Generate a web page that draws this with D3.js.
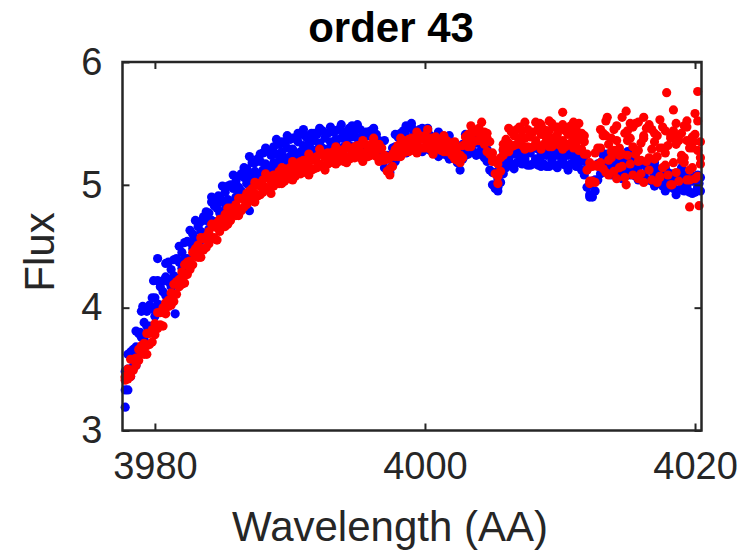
<!DOCTYPE html>
<html>
<head>
<meta charset="utf-8">
<script src="https://cdn.jsdelivr.net/npm/d3@7"></script>
<style>
  body { margin: 0; background: #fff; }
  svg { display: block; }
</style>
</head>
<body>
<div class="chart"></div>
<script>
/*------------------------------- data -------------------------------*/

const titleText = "order 43";
const xLabel = "Wavelength (AA)";
const yLabel = "Flux";
const xTicks = [3980, 4000, 4020];
const yTicks = [3, 4, 5, 6];

// wavelength grid (first pass)
const wave = [
  3977.8, 3978.2, 3978.6, 3979.0, 3979.4, 3979.8, 3980.2, 3980.6, 3981.0, 3981.4,
  3981.8, 3982.2, 3982.6, 3983.0, 3983.4, 3983.8, 3984.2, 3984.6, 3985.0, 3985.4,
  3985.8, 3986.2, 3986.6, 3987.0, 3987.4, 3987.8, 3988.2, 3988.6, 3989.0, 3989.4,
  3989.8, 3990.2, 3990.6, 3991.0, 3991.4, 3991.8, 3992.2, 3992.6, 3993.0, 3993.4,
  3993.8, 3994.2, 3994.6, 3995.0, 3995.4, 3995.8, 3996.2, 3996.6, 3997.0, 3997.4,
  3997.8, 3998.2, 3998.6, 3999.0, 3999.4, 3999.8, 4000.2, 4000.6, 4001.0, 4001.4,
  4001.8, 4002.2, 4002.6, 4003.0, 4003.4, 4003.8, 4004.2, 4004.6, 4005.0, 4005.4,
  4005.8, 4006.2, 4006.6, 4007.0, 4007.4, 4007.8, 4008.2, 4008.6, 4009.0, 4009.4,
  4009.8, 4010.2, 4010.6, 4011.0, 4011.4, 4011.8, 4012.2, 4012.6, 4013.0, 4013.4,
  4013.8, 4014.2, 4014.6, 4015.0, 4015.4, 4015.8, 4016.2, 4016.6, 4017.0, 4017.4,
  4017.8, 4018.2, 4018.6, 4019.0, 4019.4, 4019.8, 4020.2
];

// wavelength grid (second pass, in between)
const wave2 = [
  3978.0, 3978.4, 3978.8, 3979.2, 3979.6, 3980.0, 3980.4, 3980.8, 3981.2, 3981.6,
  3982.0, 3982.4, 3982.8, 3983.2, 3983.6, 3984.0, 3984.4, 3984.8, 3985.2, 3985.6,
  3986.0, 3986.4, 3986.8, 3987.2, 3987.6, 3988.0, 3988.4, 3988.8, 3989.2, 3989.6,
  3990.0, 3990.4, 3990.8, 3991.2, 3991.6, 3992.0, 3992.4, 3992.8, 3993.2, 3993.6,
  3994.0, 3994.4, 3994.8, 3995.2, 3995.6, 3996.0, 3996.4, 3996.8, 3997.2, 3997.6,
  3998.0, 3998.4, 3998.8, 3999.2, 3999.6, 4000.0, 4000.4, 4000.8, 4001.2, 4001.6,
  4002.0, 4002.4, 4002.8, 4003.2, 4003.6, 4004.0, 4004.4, 4004.8, 4005.2, 4005.6,
  4006.0, 4006.4, 4006.8, 4007.2, 4007.6, 4008.0, 4008.4, 4008.8, 4009.2, 4009.6,
  4010.0, 4010.4, 4010.8, 4011.2, 4011.6, 4012.0, 4012.4, 4012.8, 4013.2, 4013.6,
  4014.0, 4014.4, 4014.8, 4015.2, 4015.6, 4016.0, 4016.4, 4016.8, 4017.2, 4017.6,
  4018.0, 4018.4, 4018.8, 4019.2, 4019.6, 4020.0, 4020.4
];

// blue spectrum on the first grid: upper, middle and lower part of the band
const blueHi = [
  3.48, 3.64, 3.81, 3.97, 3.97, 4.08, 4.22, 4.22, 4.37, 4.39,
  4.50, 4.53, 4.63, 4.71, 4.70, 4.78, 4.86, 4.85, 4.99, 4.99,
  5.08, 5.07, 5.14, 5.23, 5.18, 5.25, 5.30, 5.27, 5.37, 5.35,
  5.40, 5.38, 5.42, 5.45, 5.40, 5.42, 5.46, 5.42, 5.47, 5.44,
  5.49, 5.43, 5.48, 5.49, 5.42, 5.43, 5.46, 5.36, 5.36, 5.21,
  5.41, 5.42, 5.48, 5.50, 5.41, 5.46, 5.44, 5.36, 5.43, 5.37,
  5.40, 5.32, 5.29, 5.41, 5.36, 5.38, 5.39, 5.29, 5.20, 5.05,
  5.28, 5.28, 5.30, 5.36, 5.26, 5.30, 5.31, 5.24, 5.34, 5.27,
  5.32, 5.28, 5.29, 5.34, 5.24, 5.24, 5.00, 5.04, 5.28, 5.25,
  5.26, 5.22, 5.22, 5.27, 5.16, 5.18, 5.18, 5.13, 5.18, 5.12,
  5.14, 5.08, 5.09, 5.14, 5.03, 5.07, 5.08
];
const blueMid = [
  3.33, 3.50, 3.68, 3.76, 3.85, 3.99, 4.03, 4.13, 4.21, 4.26,
  4.37, 4.40, 4.53, 4.56, 4.62, 4.71, 4.71, 4.81, 4.86, 4.88,
  4.97, 4.98, 5.06, 5.09, 5.11, 5.19, 5.17, 5.24, 5.25, 5.27,
  5.30, 5.29, 5.35, 5.32, 5.34, 5.36, 5.34, 5.38, 5.35, 5.37,
  5.38, 5.37, 5.39, 5.38, 5.35, 5.40, 5.34, 5.34, 5.24, 5.13,
  5.31, 5.34, 5.40, 5.37, 5.37, 5.38, 5.33, 5.34, 5.32, 5.31,
  5.31, 5.26, 5.24, 5.30, 5.32, 5.34, 5.29, 5.27, 5.10, 4.98,
  5.19, 5.22, 5.25, 5.25, 5.21, 5.26, 5.21, 5.23, 5.24, 5.20,
  5.24, 5.22, 5.24, 5.23, 5.20, 5.19, 4.90, 5.03, 5.18, 5.19,
  5.18, 5.16, 5.17, 5.16, 5.12, 5.14, 5.08, 5.12, 5.08, 5.06,
  5.05, 5.03, 5.04, 5.03, 4.99, 5.03, 4.98
];
const blueLo = [
  3.19, 3.44, 3.53, 3.68, 3.79, 3.83, 3.97, 4.00, 4.07, 4.18,
  4.21, 4.33, 4.36, 4.46, 4.55, 4.56, 4.67, 4.69, 4.73, 4.82,
  4.84, 4.93, 4.91, 4.99, 5.06, 5.06, 5.15, 5.14, 5.14, 5.22,
  5.19, 5.26, 5.21, 5.25, 5.30, 5.25, 5.32, 5.28, 5.25, 5.33,
  5.27, 5.33, 5.26, 5.31, 5.32, 5.28, 5.33, 5.25, 5.14, 5.10,
  5.19, 5.31, 5.26, 5.30, 5.34, 5.27, 5.32, 5.26, 5.23, 5.28,
  5.21, 5.24, 5.12, 5.24, 5.30, 5.24, 5.29, 5.19, 5.00, 4.95,
  5.09, 5.20, 5.13, 5.19, 5.19, 5.16, 5.21, 5.15, 5.15, 5.17,
  5.14, 5.20, 5.12, 5.17, 5.18, 5.08, 4.92, 4.95, 5.09, 5.16,
  5.08, 5.14, 5.05, 5.10, 5.10, 5.04, 5.08, 5.04, 4.99, 5.03,
  4.95, 5.01, 4.92, 4.97, 4.97, 4.93, 4.98
];

// blue spectrum on the second grid
const blueUp = [
  3.50, 3.66, 3.79, 3.88, 4.02, 4.08, 4.17, 4.25, 4.31, 4.40,
  4.45, 4.54, 4.60, 4.66, 4.74, 4.77, 4.83, 4.90, 4.94, 5.00,
  5.03, 5.09, 5.13, 5.18, 5.21, 5.26, 5.27, 5.31, 5.33, 5.34,
  5.37, 5.38, 5.41, 5.39, 5.42, 5.41, 5.44, 5.42, 5.43, 5.45,
  5.43, 5.46, 5.44, 5.45, 5.43, 5.44, 5.41, 5.35, 5.24, 5.30,
  5.39, 5.44, 5.46, 5.43, 5.45, 5.42, 5.40, 5.39, 5.38, 5.37,
  5.34, 5.31, 5.33, 5.38, 5.39, 5.38, 5.34, 5.25, 5.10, 5.15,
  5.27, 5.29, 5.31, 5.30, 5.28, 5.30, 5.29, 5.28, 5.30, 5.28,
  5.30, 5.29, 5.30, 5.27, 5.26, 5.12, 5.03, 5.17, 5.24, 5.25,
  5.22, 5.23, 5.21, 5.21, 5.18, 5.18, 5.15, 5.16, 5.13, 5.12,
  5.10, 5.09, 5.08, 5.08, 5.06, 5.07, 5.06
];
const blueDn = [
  3.33, 3.52, 3.63, 3.74, 3.85, 3.93, 4.02, 4.10, 4.17, 4.24,
  4.32, 4.40, 4.48, 4.52, 4.60, 4.64, 4.70, 4.77, 4.80, 4.86,
  4.90, 4.95, 5.01, 5.04, 5.08, 5.12, 5.14, 5.18, 5.19, 5.22,
  5.23, 5.26, 5.27, 5.27, 5.29, 5.28, 5.30, 5.29, 5.31, 5.30,
  5.31, 5.32, 5.31, 5.30, 5.32, 5.30, 5.28, 5.22, 5.12, 5.16,
  5.26, 5.31, 5.32, 5.31, 5.30, 5.29, 5.28, 5.26, 5.25, 5.24,
  5.22, 5.18, 5.21, 5.25, 5.27, 5.25, 5.22, 5.12, 4.97, 5.02,
  5.14, 5.17, 5.18, 5.17, 5.16, 5.17, 5.16, 5.17, 5.15, 5.16,
  5.17, 5.16, 5.17, 5.15, 5.12, 4.98, 4.90, 5.04, 5.12, 5.12,
  5.10, 5.10, 5.09, 5.08, 5.07, 5.05, 5.04, 5.03, 5.01, 4.99,
  4.98, 4.97, 4.96, 4.95, 4.94, 4.94, 4.95
];

// red spectrum on the first grid: upper, middle and lower part of the band
const redHi = [
  3.44, 3.58, 3.58, 3.69, 3.79, 3.82, 3.96, 4.00, 4.06, 4.19,
  4.23, 4.35, 4.37, 4.48, 4.57, 4.58, 4.68, 4.69, 4.71, 4.81,
  4.81, 4.89, 4.88, 4.95, 5.02, 5.01, 5.09, 5.07, 5.07, 5.14,
  5.12, 5.19, 5.14, 5.20, 5.25, 5.21, 5.29, 5.25, 5.24, 5.31,
  5.27, 5.32, 5.27, 5.32, 5.36, 5.31, 5.38, 5.33, 5.24, 5.22,
  5.29, 5.38, 5.33, 5.38, 5.43, 5.38, 5.45, 5.38, 5.35, 5.40,
  5.34, 5.35, 5.24, 5.39, 5.48, 5.44, 5.51, 5.42, 5.26, 5.17,
  5.33, 5.46, 5.42, 5.47, 5.51, 5.43, 5.51, 5.49, 5.44, 5.50,
  5.47, 5.49, 5.45, 5.51, 5.50, 5.40, 5.18, 5.26, 5.45, 5.52,
  5.38, 5.48, 5.55, 5.36, 5.47, 5.51, 5.40, 5.49, 5.35, 5.53,
  5.44, 5.38, 5.50, 5.42, 5.47, 5.39, 5.52
];
const redMid = [
  3.43, 3.49, 3.59, 3.64, 3.69, 3.80, 3.85, 3.96, 4.03, 4.11,
  4.21, 4.26, 4.38, 4.43, 4.48, 4.56, 4.57, 4.65, 4.69, 4.73,
  4.79, 4.80, 4.88, 4.90, 4.93, 4.99, 4.98, 5.03, 5.05, 5.06,
  5.10, 5.09, 5.15, 5.14, 5.15, 5.20, 5.17, 5.22, 5.22, 5.22,
  5.25, 5.23, 5.28, 5.27, 5.26, 5.30, 5.27, 5.29, 5.21, 5.13,
  5.27, 5.28, 5.33, 5.32, 5.33, 5.37, 5.33, 5.35, 5.33, 5.32,
  5.32, 5.26, 5.24, 5.33, 5.38, 5.43, 5.39, 5.38, 5.22, 5.07,
  5.29, 5.34, 5.40, 5.38, 5.38, 5.39, 5.36, 5.41, 5.38, 5.38,
  5.41, 5.36, 5.41, 5.41, 5.37, 5.35, 5.03, 5.16, 5.30, 5.40,
  5.27, 5.36, 5.25, 5.44, 5.31, 5.28, 5.38, 5.22, 5.42, 5.30,
  5.26, 5.40, 5.33, 5.24, 5.36, 5.30, 5.28
];
const redLo = [
  3.41, 3.44, 3.53, 3.64, 3.62, 3.72, 3.83, 3.85, 4.01, 4.05,
  4.17, 4.20, 4.31, 4.42, 4.41, 4.49, 4.56, 4.55, 4.68, 4.68,
  4.76, 4.75, 4.82, 4.90, 4.86, 4.92, 4.97, 4.93, 5.04, 5.01,
  5.07, 5.04, 5.09, 5.14, 5.08, 5.13, 5.16, 5.12, 5.21, 5.17,
  5.22, 5.18, 5.22, 5.27, 5.19, 5.23, 5.26, 5.19, 5.20, 5.08,
  5.23, 5.23, 5.27, 5.32, 5.26, 5.30, 5.32, 5.25, 5.32, 5.27,
  5.29, 5.21, 5.18, 5.33, 5.31, 5.36, 5.38, 5.27, 5.19, 5.01,
  5.24, 5.27, 5.32, 5.36, 5.29, 5.30, 5.33, 5.29, 5.35, 5.31,
  5.36, 5.29, 5.33, 5.39, 5.28, 5.25, 5.01, 5.02, 5.18, 5.10,
  5.22, 5.05, 5.15, 5.24, 5.08, 5.19, 5.02, 5.12, 5.21, 5.06,
  5.16, 5.00, 5.10, 5.20, 5.04, 5.14, 5.07
];

// red spectrum on the second grid
const redUp = [
  3.50, 3.58, 3.66, 3.71, 3.79, 3.87, 3.96, 4.04, 4.12, 4.21,
  4.29, 4.37, 4.45, 4.51, 4.56, 4.62, 4.66, 4.72, 4.76, 4.81,
  4.84, 4.89, 4.93, 4.97, 5.00, 5.04, 5.06, 5.08, 5.11, 5.13,
  5.14, 5.17, 5.19, 5.20, 5.22, 5.23, 5.25, 5.26, 5.27, 5.28,
  5.29, 5.30, 5.31, 5.32, 5.33, 5.33, 5.33, 5.30, 5.21, 5.25,
  5.32, 5.36, 5.37, 5.37, 5.40, 5.40, 5.38, 5.39, 5.37, 5.36,
  5.34, 5.30, 5.32, 5.41, 5.45, 5.46, 5.43, 5.35, 5.19, 5.22,
  5.37, 5.43, 5.45, 5.44, 5.45, 5.43, 5.46, 5.45, 5.44, 5.47,
  5.45, 5.44, 5.48, 5.45, 5.42, 5.25, 5.15, 5.30, 5.40, 5.33,
  5.45, 5.30, 5.42, 5.38, 5.50, 5.34, 5.46, 5.29, 5.40, 5.47,
  5.32, 5.44, 5.36, 5.48, 5.30, 5.41, 5.35
];
const redDn = [
  3.42, 3.49, 3.57, 3.62, 3.70, 3.78, 3.86, 3.95, 4.02, 4.11,
  4.19, 4.27, 4.35, 4.41, 4.47, 4.52, 4.57, 4.62, 4.66, 4.71,
  4.75, 4.79, 4.84, 4.87, 4.91, 4.94, 4.96, 4.99, 5.01, 5.03,
  5.05, 5.07, 5.09, 5.10, 5.12, 5.14, 5.15, 5.17, 5.18, 5.19,
  5.19, 5.21, 5.22, 5.22, 5.23, 5.24, 5.23, 5.20, 5.11, 5.15,
  5.23, 5.26, 5.27, 5.28, 5.30, 5.30, 5.29, 5.29, 5.28, 5.27,
  5.24, 5.20, 5.22, 5.31, 5.35, 5.36, 5.33, 5.25, 5.09, 5.11,
  5.27, 5.31, 5.33, 5.32, 5.31, 5.31, 5.32, 5.33, 5.31, 5.33,
  5.32, 5.31, 5.34, 5.32, 5.29, 5.12, 5.03, 5.15, 5.13, 5.20,
  5.11, 5.24, 5.06, 5.17, 5.25, 5.09, 5.19, 5.04, 5.23, 5.14,
  5.08, 5.18, 5.03, 5.22, 5.12, 5.05, 5.17
];

// stray points off the main bands
const blueStrayWave = [3978.0, 3978.9, 3979.1, 3979.9, 3980.2, 3980.8, 3981.5, 3984.2, 3984.7, 3987.0,
                       3999.0, 4000.2, 4020.3];
const blueStrayFlux = [3.62, 3.80, 4.01, 4.22, 4.40, 4.36, 3.95, 4.90, 4.91, 4.79,
                       5.47, 5.46, 5.01];
const redStrayWave = [4008.5, 4009.2, 4010.2, 4011.0, 4013.2, 4013.5, 4013.6, 4014.0, 4014.4, 4014.9,
                      4014.9, 4015.2, 4015.8, 4016.0, 4016.2, 4016.8, 4017.2, 4017.4, 4017.6, 4017.9,
                      4018.3, 4018.4, 4018.8, 4019.2, 4019.4, 4019.6, 4019.6, 4019.9, 4020.0, 4020.2,
                      4020.3, 4020.4];
const redStrayFlux = [5.50, 5.52, 5.59, 5.30, 5.42, 5.55, 5.08, 5.28, 5.14, 5.60,
                      5.00, 5.50, 5.05, 5.20, 5.55, 5.45, 5.02, 5.07, 5.30, 5.75,
                      5.00, 5.61, 5.40, 5.18, 5.52, 4.82, 5.04, 5.35, 5.58, 5.76,
                      4.83, 5.22];

/*------------------------------- layout -------------------------------*/

const size = { width: 737, height: 558 };
const plot = { left: 122.5, right: 701.5, top: 62, bottom: 430.5 };
const ink = "#262626";
const font = "'Liberation Sans', Arial, Helvetica, sans-serif";

const svg = d3.select(".chart").append("svg")
    .attr("width", size.width)
    .attr("height", size.height);

const x = d3.scaleLinear().domain([3977.6, 4020.48]).range([plot.left, plot.right]);
const y = d3.scaleLinear().domain([3, 6]).range([plot.bottom, plot.top]);

const toPoints = (ws, fs) => ws.map((w, i) => ({ w: w, f: fs[i] }));

const bluePts = [].concat(
    toPoints(wave, blueLo), toPoints(wave2, blueDn), toPoints(wave, blueMid),
    toPoints(wave2, blueUp), toPoints(wave, blueHi),
    toPoints(blueStrayWave, blueStrayFlux));
const redPts = [].concat(
    toPoints(wave, redLo), toPoints(wave2, redDn), toPoints(wave, redMid),
    toPoints(wave2, redUp), toPoints(wave, redHi),
    toPoints(redStrayWave, redStrayFlux));

/*------------------------------- marks -------------------------------*/

const drawDots = (pts, color) => {
    svg.append("g")
        .selectAll("circle")
        .data(pts)
        .enter()
        .append("circle")
        .attr("cx", d => x(d.w))
        .attr("cy", d => y(d.f))
        .attr("r", 4.6)
        .attr("fill", color);
};

drawDots(bluePts, "#0000ff");
drawDots(redPts, "#ff0000");

/*------------------------------- axes -------------------------------*/

const styleAxis = (g) => {
    g.select(".domain").remove();
    g.selectAll(".tick line").attr("stroke", ink).attr("stroke-width", 2);
    g.selectAll(".tick text")
        .attr("fill", ink)
        .style("font-family", font)
        .style("font-size", "38px");
};

svg.append("g")
    .attr("transform", `translate(0,${plot.bottom})`)
    .call(d3.axisBottom(x).tickValues(xTicks).tickFormat(d3.format("d"))
        .tickSizeInner(-7).tickSizeOuter(0).tickPadding(22))
    .call(styleAxis);

svg.append("g")
    .attr("transform", `translate(0,${plot.top})`)
    .call(d3.axisTop(x).tickValues(xTicks).tickFormat("").tickSizeInner(-7).tickSizeOuter(0))
    .call(styleAxis);

svg.append("g")
    .attr("transform", `translate(${plot.left},0)`)
    .call(d3.axisLeft(y).tickValues(yTicks).tickFormat(d3.format("d"))
        .tickSizeInner(-7).tickSizeOuter(0).tickPadding(20))
    .call(styleAxis);

svg.append("g")
    .attr("transform", `translate(${plot.right},0)`)
    .call(d3.axisRight(y).tickValues(yTicks).tickFormat("").tickSizeInner(-7).tickSizeOuter(0))
    .call(styleAxis);

// box
svg.append("rect")
    .attr("x", plot.left)
    .attr("y", plot.top)
    .attr("width", plot.right - plot.left)
    .attr("height", plot.bottom - plot.top)
    .attr("fill", "none")
    .attr("stroke", ink)
    .attr("stroke-width", 2.5);

/*------------------------------- labels -------------------------------*/

svg.append("text")
    .attr("x", 391)
    .attr("y", 42)
    .attr("text-anchor", "middle")
    .style("font-family", font)
    .style("font-size", "42px")
    .style("font-weight", "bold")
    .attr("fill", "#000")
    .text(titleText);

svg.append("text")
    .attr("x", 390)
    .attr("y", 541)
    .attr("text-anchor", "middle")
    .style("font-family", font)
    .style("font-size", "42px")
    .attr("fill", ink)
    .text(xLabel);

svg.append("text")
    .attr("transform", "translate(54,252) rotate(-90)")
    .attr("text-anchor", "middle")
    .style("font-family", font)
    .style("font-size", "42px")
    .attr("fill", ink)
    .text(yLabel);
</script>
</body>
</html>
